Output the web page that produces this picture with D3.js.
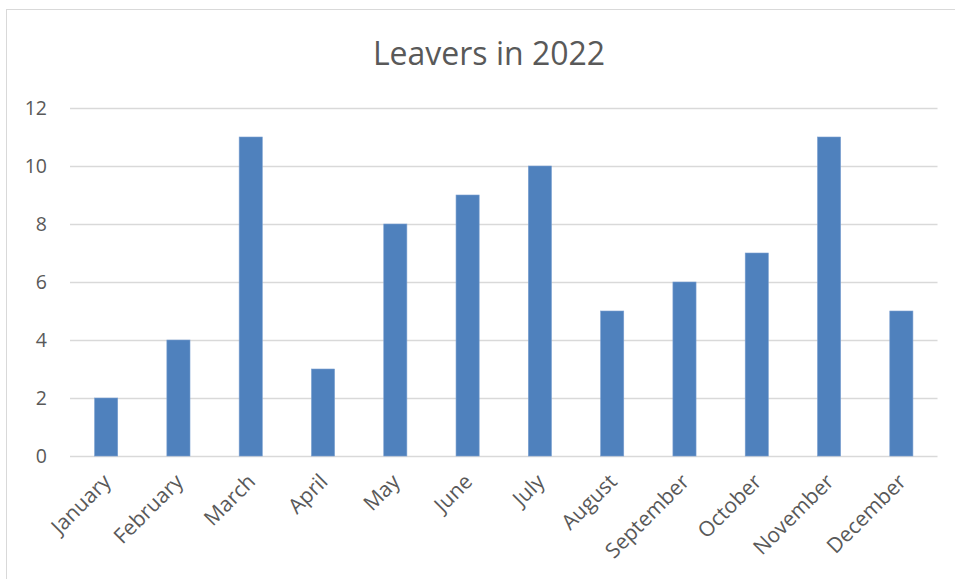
<!DOCTYPE html>
<html><head><meta charset="utf-8">
<script src="https://cdn.jsdelivr.net/npm/d3@7/dist/d3.min.js"></script>
<style>body{margin:0;background:#fff;} svg{display:block;}</style>
</head><body>
<script>
const months = ["January","February","March","April","May","June","July","August","September","October","November","December"];
const leavers = [2,4,11,3,8,9,10,5,6,7,11,5];
const yTicks = [0,2,4,6,8,10,12];
const title = "Leavers in 2022";

const W = 955, H = 579;
const svg = d3.select("body").append("svg").attr("width", W).attr("height", H);
svg.append("rect").attr("x",6.5).attr("y",9.5).attr("width",W).attr("height",H)
  .attr("fill","#fff").attr("stroke","#d9d9d9").attr("stroke-width",1);

const font = "'Open Sans', sans-serif";
const pL = 70, pR = 937.5, pT = 108, pB = 456;
const x = d3.scaleBand().domain(months).range([pL, pR]).paddingInner(0.68).paddingOuter(0.34);
const y = d3.scaleLinear().domain([0,12]).range([pB, pT]);

svg.append("text").attr("x", 489).attr("y", 65).attr("text-anchor","middle")
  .attr("font-family", font).attr("font-size", 32).attr("fill","#595959").text(title);

const ga = svg.append("g").attr("transform", `translate(${pL},0)`)
  .call(d3.axisLeft(y).tickValues(yTicks).tickSize(-(pR-pL)).tickPadding(23));
ga.select(".domain").remove();
ga.selectAll(".tick line").attr("stroke","#d9d9d9").attr("stroke-width",1.5);
ga.selectAll(".tick text").attr("font-family", font).attr("font-size", 19.5).attr("fill","#595959");

svg.append("g").selectAll("rect").data(leavers).join("rect")
  .attr("x",(d,i)=>x(months[i])).attr("width", x.bandwidth())
  .attr("y", d=>y(d)).attr("height", d=>y(0)-y(d))
  .attr("fill","#4f81bd").attr("stroke","#7a9fd0").attr("stroke-width",0.6);

const gx = svg.append("g").attr("transform", `translate(0,${pB})`)
  .call(d3.axisBottom(x).tickSize(0).tickPadding(0));
gx.select(".domain").remove();
gx.selectAll(".tick text").attr("font-family", font).attr("font-size", 21).attr("fill","#595959")
  .attr("text-anchor","end").attr("dy", 0)
  .attr("transform","translate(6,27) rotate(-45)");
</script>
</body></html>
